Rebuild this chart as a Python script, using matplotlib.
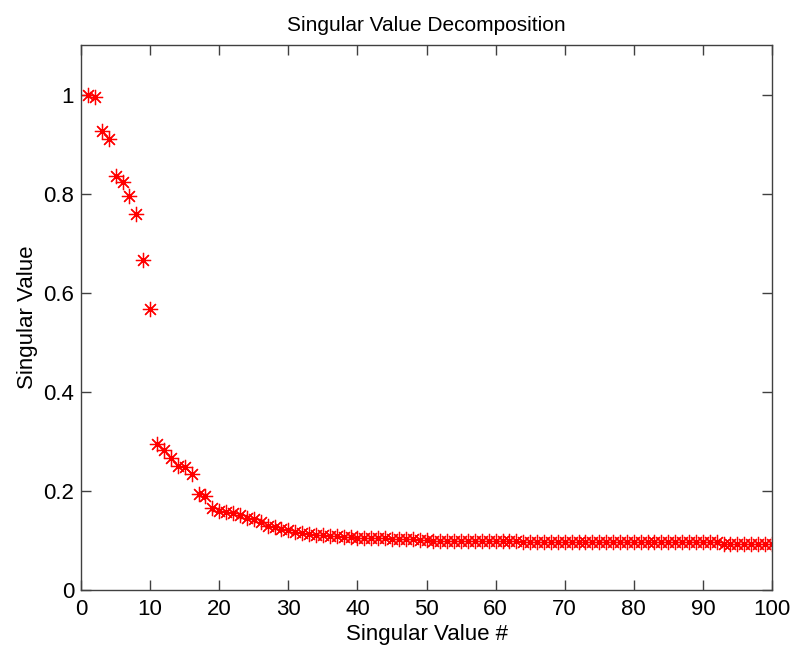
import numpy as np
import matplotlib
matplotlib.use('Agg')
import matplotlib.pyplot as plt

# Singular values (index 1..100)
sv_index = list(range(1, 101))
sv_values = [
    1.000, 0.995, 0.926, 0.910, 0.836, 0.824, 0.795, 0.759, 0.666, 0.567,
    0.295, 0.283, 0.267, 0.251, 0.248, 0.234, 0.194, 0.190, 0.165, 0.160,
    0.158, 0.155, 0.151, 0.145, 0.143, 0.138, 0.129, 0.127, 0.123, 0.121,
    0.117, 0.115, 0.113, 0.112, 0.111, 0.110, 0.109, 0.108, 0.107, 0.106,
    0.106, 0.105, 0.106, 0.105, 0.104, 0.104, 0.103, 0.103, 0.102, 0.101,
    0.100, 0.100, 0.100, 0.099, 0.099, 0.099, 0.099, 0.099, 0.099, 0.099,
    0.099, 0.099, 0.099, 0.098, 0.098, 0.098, 0.097, 0.097, 0.097, 0.097,
    0.097, 0.097, 0.097, 0.097, 0.097, 0.097, 0.097, 0.097, 0.097, 0.097,
    0.097, 0.097, 0.097, 0.097, 0.097, 0.097, 0.097, 0.097, 0.097, 0.097,
    0.097, 0.097, 0.094, 0.094, 0.094, 0.094, 0.094, 0.094, 0.094, 0.094,
]
x_ticks = [0, 10, 20, 30, 40, 50, 60, 70, 80, 90, 100]
y_ticks = [0, 0.2, 0.4, 0.6, 0.8, 1]
y_tick_labels = ['0', '0.2', '0.4', '0.6', '0.8', '1']

plt.rcParams['font.family'] = ['Liberation Sans', 'DejaVu Sans']

fig = plt.figure(figsize=(7.95, 6.45), dpi=100)
ax = fig.add_axes([0.102, 0.085, 0.869, 0.845])

ax.plot(sv_index, sv_values, linestyle='none', marker=(8, 2, 0),
        color='#ff0000', markersize=11, markeredgewidth=0.9)

ax.set_xlim(0, 100)
ax.set_ylim(0, 1.1)
ax.set_xticks(x_ticks)
ax.set_yticks(y_ticks)
ax.set_yticklabels(y_tick_labels)
ax.tick_params(direction='in', length=7, width=1, top=True, right=True,
               labelsize=16, color='#404040')
ax.tick_params(axis='x', pad=6)
ax.tick_params(axis='y', pad=5)
for s in ax.spines.values():
    s.set_color('#404040')
    s.set_linewidth(1)

ax.set_xlabel('Singular Value #', fontsize=16, labelpad=3)
ax.set_ylabel('Singular Value', fontsize=16, labelpad=4)
ax.set_title('Singular Value Decomposition', fontsize=15, pad=10,
             family=['Liberation Sans Narrow', 'Liberation Sans'])

fig.savefig('out.png', dpi=100)
